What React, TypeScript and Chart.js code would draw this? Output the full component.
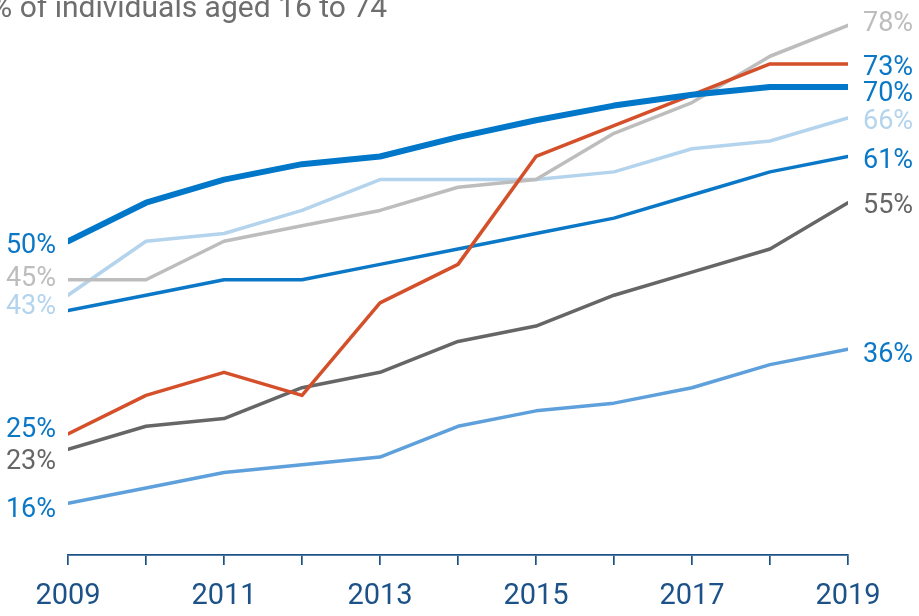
import React, { useEffect, useRef } from "react";
import { Chart, registerables } from "chart.js";

Chart.register(...registerables);

const years = [2009, 2010, 2011, 2012, 2013, 2014, 2015, 2016, 2017, 2018, 2019];
const tickYears = [2009, 2011, 2013, 2015, 2017, 2019];

const seriesA = [50, 55, 58, 60, 61, 63.5, 65.7, 67.6, 69, 70, 70];
const seriesB = [25, 30, 33, 30, 42, 47, 61, 65, 69, 73, 73];
const seriesC = [45, 45, 50, 52, 54, 57, 58, 64, 68, 74, 78];
const seriesD = [43, 50, 51, 54, 58, 58, 58, 59, 62, 63, 66];
const seriesE = [41, 43, 45, 45, 47, 49, 51, 53, 56, 59, 61];
const seriesF = [23, 26, 27, 31, 33, 37, 39, 43, 46, 49, 55];
const seriesG = [16, 18, 20, 21, 22, 26, 28, 29, 31, 34, 36];

const subtitle = "% of individuals aged 16 to 74";

const BLUE = "#0a78c6";
const AXIS = "#1c5288";

// styles: colour, width, label colours, label vertical nudges (px)
const styles = [
  { data: seriesA, color: "#0077c8", width: 6, lc: BLUE, rc: BLUE, left: true, ln: 2, rn: 4.5 },
  { data: seriesB, color: "#d4502a", width: 3.5, lc: BLUE, rc: BLUE, left: true, ln: -6.5, rn: 1 },
  { data: seriesE, color: "#0a78c6", width: 3.5, lc: BLUE, rc: BLUE, left: false, ln: 0, rn: 1.5 },
  { data: seriesC, color: "#bdbdbd", width: 3.5, lc: "#bdbdbd", rc: "#bdbdbd", left: true, ln: -3.5, rn: -4 },
  { data: seriesD, color: "#b4d4ed", width: 3.5, lc: "#b4d4ed", rc: "#b4d4ed", left: true, ln: 9.5, rn: 1.5 },
  { data: seriesF, color: "#666666", width: 3.5, lc: "#666666", rc: "#666666", left: true, ln: 10.5, rn: 1 },
  { data: seriesG, color: "#5ea0db", width: 3.5, lc: BLUE, rc: BLUE, left: true, ln: 4.5, rn: 3 },
];

const labelPlugin = {
  id: "endLabels",
  afterDatasetsDraw(chart: any) {
    const ctx = chart.ctx;
    const xs = chart.scales.x;
    const ys = chart.scales.y;
    ctx.save();
    ctx.font = "27px Roboto";
    ctx.textBaseline = "alphabetic";
    styles.forEach((s) => {
      const first = s.data[0];
      const last = s.data[s.data.length - 1];
      if (s.left) {
        ctx.textAlign = "right";
        ctx.fillStyle = s.lc;
        ctx.fillText(first + "%", xs.getPixelForValue(years[0]) - 12, ys.getPixelForValue(first) + s.ln + 9.6);
      }
      ctx.textAlign = "left";
      ctx.fillStyle = s.rc;
      ctx.fillText(last + "%", xs.getPixelForValue(years[years.length - 1]) + 15, ys.getPixelForValue(last) + s.rn + 9.6);
    });
    ctx.font = "30px Roboto";
    ctx.fillStyle = "#6e6e6e";
    ctx.textAlign = "right";
    ctx.fillText(subtitle, 387, 17);
    ctx.restore();
  },
};

export default function App() {
  const ref = useRef<HTMLCanvasElement | null>(null);
  useEffect(() => {
    document.body.style.margin = "0";
    const canvas = ref.current!;
    const chart = new Chart(canvas, {
      type: "line",
      data: {
        datasets: styles.map((s) => ({
          data: s.data.map((v, i) => ({ x: years[i], y: v })),
          borderColor: s.color,
          borderWidth: s.width,
          pointRadius: 0,
          fill: false,
          tension: 0,
          borderCapStyle: "round",
          borderJoinStyle: "round",
        })),
      },
      options: {
        animation: false,
        responsive: false,
        devicePixelRatio: 1,
        layout: { padding: { top: 10, left: 68, right: 71, bottom: 0 } },
        plugins: { legend: { display: false }, tooltip: { enabled: false }, title: { display: false } },
        scales: {
          x: {
            type: "linear",
            min: years[0],
            max: years[years.length - 1],
            afterFit: (scale: any) => {
              scale.height = 61;
            },
            afterBuildTicks: (scale: any) => {
              scale.ticks = years.map((y) => ({ value: y }));
            },
            ticks: {
              autoSkip: false,
              maxRotation: 0,
              padding: 14,
              color: AXIS,
              font: { family: "Roboto", size: 29 },
              callback: (v: any) => (tickYears.includes(Number(v)) ? String(v) : ""),
            },
            grid: {
              display: true,
              drawOnChartArea: false,
              drawTicks: true,
              tickLength: 10,
              color: AXIS,
              lineWidth: 1.7,
            },
            border: { display: true, color: AXIS, width: 1.7 },
          },
          y: {
            display: false,
            min: 9.3,
            max: 80,
          },
        },
      },
      plugins: [labelPlugin],
    } as any);
    return () => chart.destroy();
  }, []);
  return (
    <div style={{ position: "absolute", left: 0, top: 0, width: 919, height: 616 }}>
      <canvas ref={ref} width={919} height={616} />
    </div>
  );
}
